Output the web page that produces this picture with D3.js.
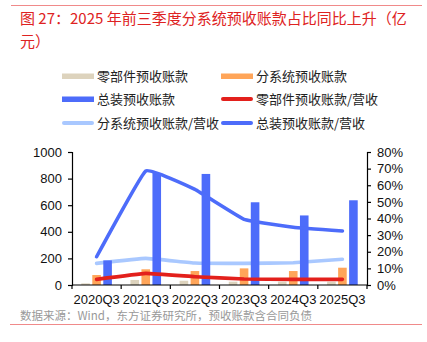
<!DOCTYPE html>
<html><head><meta charset="utf-8">
<script src="https://cdn.jsdelivr.net/npm/d3@7"></script>
<style>
body{margin:0;background:#fff;}
svg{display:block;}
</style></head>
<body>
<svg id="c" width="427" height="342"></svg>
<script>
const categories = ["2020Q3","2021Q3","2022Q3","2023Q3","2024Q3","2025Q3"];
const partsAdv   = [12, 38, 32, 25, 25, 25];
const subsysAdv  = [75, 118, 105, 125, 105, 130];
const totalAdv   = [185, 842, 835, 622, 523, 637];
const partsRatio  = [3.4, 7.0, 5.0, 3.6, 3.4, 3.4];
const subsysRatio = [13.0, 16.0, 13.2, 13.0, 13.4, 15.5];
const totalRatio  = [17.0, 68.6, 57.5, 39.5, 34.7, 32.5];
const leftTicks = [0,200,400,600,800,1000];
const rightTicks = [0,10,20,30,40,50,60,70,80];

const C = {beige:"#DDD3BD", orange:"#FFA559", blue:"#4D6CFA", red:"#E3201C", light:"#A9C8FF"};
const svg = d3.select("#c");
const cjk = "'Noto Sans CJK SC','Noto Sans',sans-serif";
const latin = "'Liberation Sans',Arial,sans-serif";

// top & bottom rules
svg.append("line").attr("x1",11).attr("x2",422).attr("y1",5.5).attr("y2",5.5).attr("stroke","#F08A8A").attr("stroke-width",1);
svg.append("line").attr("x1",10).attr("x2",422).attr("y1",324.5).attr("y2",324.5).attr("stroke","#F08A8A").attr("stroke-width",1);

// title
const title = svg.append("g").attr("fill","#DE2222").style("font-family",cjk).style("font-size","15px").style("font-weight","400");
title.append("text").attr("x",20).attr("y",24).text("图 27：2025 年前三季度分系统预收账款占比同比上升（亿");
title.append("text").attr("x",20).attr("y",47).text("元）");

// legend
const legend = [
  {t:"零部件预收账款", c:C.beige, k:"rect", x:62, y:76},
  {t:"分系统预收账款", c:C.orange, k:"rect", x:221, y:76},
  {t:"总装预收账款", c:C.blue, k:"rect", x:62, y:99},
  {t:"零部件预收账款/营收", c:C.red, k:"line", x:221, y:99},
  {t:"分系统预收账款/营收", c:C.light, k:"line", x:62, y:123},
  {t:"总装预收账款/营收", c:C.blue, k:"line", x:221, y:123}
];
const lg = svg.append("g");
legend.forEach(d=>{
  if(d.k==="rect"){
    lg.append("rect").attr("x",d.x).attr("y",d.y-2.5).attr("width",32).attr("height",5.5).attr("fill",d.c);
  } else {
    lg.append("line").attr("x1",d.x+2).attr("x2",d.x+30).attr("y1",d.y).attr("y2",d.y)
      .attr("stroke",d.c).attr("stroke-width",4).attr("stroke-linecap","round");
  }
  lg.append("text").attr("x",d.x+35).attr("y",d.y+4.5).text(d.t)
    .style("font-family",cjk).style("font-size","13px").attr("fill","#222");
});

// scales
const x0 = 72, x1 = 367, yBot = 285, yTop = 152;
const x = d3.scaleBand().domain(categories).range([x0,x1]).padding(0);
const yL = d3.scaleLinear().domain([0,1000]).range([yBot,yTop]);
const yR = d3.scaleLinear().domain([0,80]).range([yBot,yTop]);
const cx = c => x(c) + x.bandwidth()/2;
const bw = 8.6, pitch = 11;

// axes
const axL = svg.append("g").attr("transform",`translate(${x0},0)`)
  .call(d3.axisLeft(yL).tickValues(leftTicks).tickSize(4).tickPadding(6).tickFormat(d3.format("d")));
const axR = svg.append("g").attr("transform",`translate(${x1},0)`)
  .call(d3.axisRight(yR).tickValues(rightTicks).tickSize(4).tickPadding(6).tickFormat(d=>d+"%"));
const axB = svg.append("g").attr("transform",`translate(0,${yBot})`)
  .call(d3.axisBottom(x).tickSize(0).tickPadding(10));
[axL,axR,axB].forEach(a=>{
  a.select(".domain").attr("stroke","#000").attr("stroke-width",1.2);
  a.selectAll(".tick line").attr("stroke","#000").attr("stroke-width",1.2);
  a.selectAll("text").style("font-family",latin).style("font-size","13px").attr("fill","#111");
});
axB.select(".domain").remove();
// bottom category boundary ticks
const bounds = categories.map(c=>x(c)).concat([x1]);
svg.selectAll(".bt").data(bounds).enter().append("line")
  .attr("x1",d=>d).attr("x2",d=>d).attr("y1",yBot).attr("y2",yBot+4).attr("stroke","#000").attr("stroke-width",1.2);

// line generator
const lineGen = vals => d3.line().x((d,i)=>cx(categories[i])).y(d=>yR(d)).curve(d3.curveCardinal.tension(0.75))(vals);

// light blue line (behind bars)
svg.append("path").attr("d",lineGen(subsysRatio)).attr("fill","none").attr("stroke",C.light).attr("stroke-width",3.6).attr("stroke-linecap","round").attr("stroke-linejoin","round");

// bars
const series = [{v:partsAdv,c:C.beige,o:-pitch},{v:subsysAdv,c:C.orange,o:0},{v:totalAdv,c:C.blue,o:pitch}];
series.forEach(s=>{
  svg.append("g").selectAll("rect").data(s.v).enter().append("rect")
    .attr("x",(d,i)=>cx(categories[i])+s.o-bw/2)
    .attr("y",d=>yL(d)).attr("width",bw).attr("height",d=>yBot-yL(d)).attr("fill",s.c);
});

// red and blue lines on top
svg.append("path").attr("d",lineGen(partsRatio)).attr("fill","none").attr("stroke",C.red).attr("stroke-width",3.6).attr("stroke-linecap","round").attr("stroke-linejoin","round");
svg.append("path").attr("d",lineGen(totalRatio)).attr("fill","none").attr("stroke",C.blue).attr("stroke-width",3.6).attr("stroke-linecap","round").attr("stroke-linejoin","round");

// axis baseline over bars
svg.append("line").attr("x1",x0).attr("x2",x1).attr("y1",yBot).attr("y2",yBot).attr("stroke","#000").attr("stroke-width",1.2);

// source
svg.append("text").attr("x",20).attr("y",320).text("数据来源：Wind，东方证券研究所，预收账款含合同负债")
  .style("font-family",cjk).style("font-size","11.5px").attr("fill","#999");
</script>
</body></html>
